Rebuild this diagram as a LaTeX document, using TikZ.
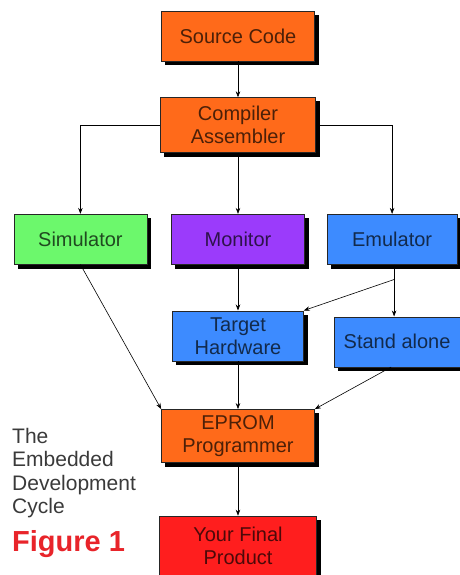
\documentclass[tikz,border=0pt]{standalone}
\usepackage{fontspec}
\setmainfont{Liberation Sans}
\usetikzlibrary{
  arrows.meta,
  positioning,
  calc,
  backgrounds
}
\definecolor{devorange}{HTML}{FF6A1A}
\definecolor{devgreen}{HTML}{6CF86C}
\definecolor{devpurple}{HTML}{9B3BFB}
\definecolor{devblue}{HTML}{3D8BFF}
\definecolor{devred}{HTML}{FF1E1E}
\definecolor{devgray}{HTML}{3A3A3A}
\definecolor{figred}{HTML}{E8242A}

\begin{document}
\begin{tikzpicture}[
  x=1pt, y=1pt,
  block/.style={draw=black!85, line width=0.6pt, fill=#1, text=#1!30!black,
    minimum height=50pt, inner sep=2pt, align=center,
    font=\fontsize{20}{23}\selectfont},
  every edge/.style={draw, line width=0.6pt, -{Stealth[length=6pt, width=4.5pt]}},
  arr/.style={line width=0.6pt, -{Stealth[length=6pt, width=4.5pt]}},
  caption/.style={text=devgray, align=left, inner sep=0pt,
    font=\fontsize{21}{23.5}\selectfont}
]
  \useasboundingbox (0,0) rectangle (460,-575);

  % main column
  \node[block=devorange, minimum width=153pt] (src) at (238,-36) {Source Code};
  \node[block=devorange, minimum width=155pt, minimum height=55pt, below=36pt of src] (comp)
    {Compiler\\Assembler};
  \node[block=devpurple, minimum width=133pt, below=61pt of comp] (mon) {Monitor};
  \node[block=devgreen, minimum width=133pt, left=24pt of mon] (sim) {Simulator};
  \node[block=devblue, minimum width=130pt, right=22pt of mon] (emu) {Emulator};
  \node[block=devblue, minimum width=131pt, below=46pt of mon] (tgt) {Target\\Hardware};
  \node[block=devblue, minimum width=126pt, right=30pt of tgt, yshift=-6pt] (stand) {Stand alone};
  \node[block=devorange, minimum width=153pt, minimum height=53pt, below=48pt of tgt] (eprom)
    {EPROM\\Programmer};
  \node[block=devred, minimum width=157pt, minimum height=60pt, below=53pt of eprom] (final)
    {Your Final\\Product};

  % shadows
  \begin{scope}[on background layer]
    \foreach \b in {src,comp,sim,mon,emu,tgt,stand,eprom,final}
      \fill[black] ($(\b.south west)+(4,-4)$) rectangle ($(\b.north east)+(4,-4)$);
  \end{scope}

  % caption
  \node[caption, anchor=north west] (cycle) at (12,-428) {The\\Embedded\\Development\\Cycle};
  \node[text=figred, inner sep=0pt, anchor=west, font=\fontsize{29}{32}\selectfont\bfseries]
    (fig) at (12,-544) {Figure 1};

  % connectors
  \draw (src) edge (comp);
  \draw (comp) edge (mon);
  \draw[arr] (comp.west) -| (sim.north);
  \draw[arr] (comp.east) -| (emu.north);
  \draw (mon) edge (tgt);

  \coordinate (split) at ($(emu.south)+(2,-15)$);
  \draw[line width=0.6pt] (emu.south -| split) -- (split);
  \draw (split) edge (tgt.north east);
  \draw (split) edge (split |- stand.north);

  \draw (sim.south) edge (eprom.north west);
  \draw (tgt) edge (eprom);
  \draw ([xshift=-6pt]stand.south) edge (eprom.north east);
  \draw (eprom) edge (final);

\end{tikzpicture}
\end{document}
